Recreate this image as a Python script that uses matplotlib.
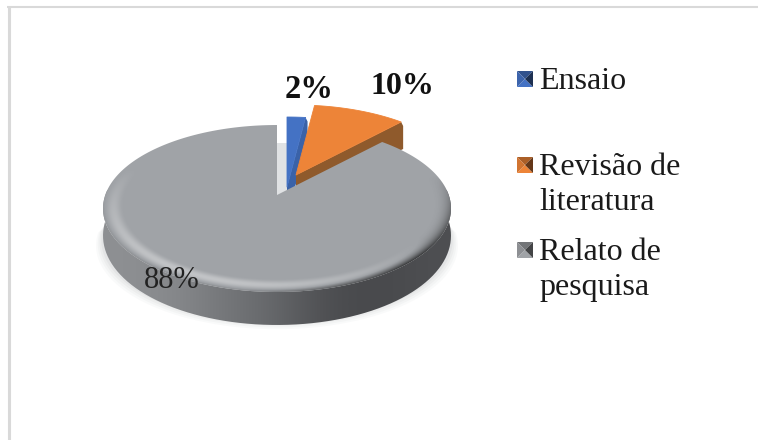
import numpy as np
import matplotlib
matplotlib.use("Agg")
import matplotlib.pyplot as plt
from matplotlib.patches import Polygon, PathPatch
from matplotlib.path import Path

# data
categories = ["Ensaio", "Revisão de\nliteratura", "Relato de\npesquisa"]
values = [2, 10, 88]
labels = ["2%", "10%", "88%"]
colors = ["#4472c4", "#ed8438", "#a0a3a7"]
side_colors = ["#3a62a8", "#8f5a2c", "#6a6c70"]

# pie geometry, in pixels
W, H = 758, 440
cx, cy = 277, 195
a, b, k = 81.3, 171.7, 0.1617


def project(theta, r=1.0):
    # theta clockwise from the top, degrees
    t = np.radians(theta)
    u = r * np.sin(t)
    v = r * np.cos(t)
    w = 1 + k * v
    return cx + b * u / w, cy - a * v / w


def rim(t0, t1, n=120):
    x, y = project(np.linspace(t0, t1, n))
    return np.column_stack([x, y])


def gradient(ax, path, stops, extent, zorder):
    img = np.array([matplotlib.colors.to_rgb(c) for c in stops])[None, :, :]
    im = ax.imshow(img, extent=extent, aspect="auto", interpolation="bicubic", zorder=zorder)
    im.set_clip_path(PathPatch(path, transform=ax.transData))


def tone(col, f):
    return tuple(np.array(matplotlib.colors.to_rgb(col)) * f)


fig = plt.figure(figsize=(W / 100, H / 100), dpi=100)
ax = fig.add_axes([0, 0, 1, 1])
ax.set_xlim(0, W)
ax.set_ylim(H, 0)
ax.axis("off")

# frame of the chart area
ax.plot([8.5, 8.5], [H, 7], color="#d9d9d9", lw=2.2, solid_capstyle="butt", zorder=1)
ax.plot([7, W], [7, 7], color="#d9d9d9", lw=1.5, solid_capstyle="butt", zorder=1)

total = sum(values)
angles = np.cumsum([0] + values) / total * 360

# soft shadow under the pie
for grow, alpha in zip([12, 9, 6, 3], [0.05, 0.06, 0.08, 0.1]):
    pts = rim(90, 270)
    pts = np.column_stack([cx + (pts[:, 0] - cx) * (1 + grow / 300), pts[:, 1] + 30 + grow * 0.6])
    ax.add_patch(Polygon(np.vstack([pts, [[cx, 150]]]), fc="#9a9ea3", ec="none", alpha=alpha, zorder=2))

# shadow in the gap at the top
ax.add_patch(Polygon([[cx, 143], [288, 143], [288, 190], [cx, 195]], fc="#e0e2e4", ec="none", zorder=2))

# Relato de pesquisa: wall then top
t0, t1 = angles[2], angles[3]
front = rim(t0 + 30, 300, 200)
depth = 26 - 7 * np.cos(np.radians(np.linspace(t0 + 30, 300, 200)))
wall = np.vstack([front, (front + np.column_stack([np.zeros(200), depth]))[::-1]])
gradient(
    ax,
    Path(np.vstack([wall, wall[:1]])),
    ["#8e9093", "#87898c", "#747679", "#65676a", "#4d4e51", "#47484b", "#4e4f52"],
    (101, 451, 340, 190),
    3,
)

top = np.vstack([[[cx, cy]], rim(t0, t1, 300), [[cx, cy]]])
ax.add_patch(Polygon(top, fc=colors[2], ec="none", zorder=5))

# bevel around the edge of the top, soft, only on the front half
ys, xs = np.mgrid[0:H, 0:W]
X = xs + 0.5 - cx
Y = cy - (ys + 0.5)
v = Y / (a - k * Y)
u = X * (1 + k * v) / b
r = np.hypot(u, v)
s = np.clip((r - 0.88) / 0.12, 0, 1)
front_side = np.clip(-v + 0.25, 0, 1)
bright = 0.28 * np.sin(np.pi * s) ** 2 * np.clip(-v - 0.1 - 0.5 * u, 0, 1)
dark = 0.55 * s**3 * front_side * np.clip(0.3 + 0.9 * u, 0.15, 1)
shade = bright - dark
overlay = np.zeros((H, W, 4))
overlay[..., :3] = (shade > 0)[..., None] * 1.0
overlay[..., 3] = np.clip(np.abs(shade) * 1.4, 0, 1)
im = ax.imshow(overlay, extent=(0, W, H, 0), aspect="auto", interpolation="bilinear", zorder=6)
im.set_clip_path(PathPatch(Path(top), transform=ax.transData))
ax.set_xlim(0, W)
ax.set_ylim(H, 0)

# the two exploded slices
offsets = [(10, -8), (19, -20)]
for i in [0, 1]:
    dx, dy = offsets[i]
    pts = np.vstack([[[cx, cy]], rim(angles[i], angles[i + 1], 40)]) + [dx, dy]
    # cut face going down from the right edge of the slice
    tip = pts[-1]
    face = [pts[0], tip, tip + [2, 4], tip + [2, 27], pts[0] + [0, 27]]
    ax.add_patch(Polygon(face, fc=side_colors[i], ec="none", zorder=3.2 + i))
    ax.add_patch(Polygon(pts, fc=colors[i], ec=colors[i], lw=0.6, joinstyle="round", zorder=3.3 + i))

# data labels
ax.text(309, 89, labels[0], fontsize=23.5, fontweight="bold", family="Liberation Serif",
        ha="center", va="center", color="#111111", zorder=8)
ax.text(402, 86, labels[1], fontsize=23, fontweight="bold", family="Liberation Serif",
        ha="center", va="center", color="#111111", zorder=8)
ax.text(172, 281, labels[2], fontsize=22, family="Liberation Serif",
        ha="center", va="center", color="#222222", zorder=8)

# legend
legend_y = [79, 165, 250]
for name, col, y in zip(categories, colors, legend_y):
    x0, x1 = 517, 533
    y0, y1 = y - 8, y + 8
    xc, yc = (x0 + x1) / 2, y
    ax.add_patch(Polygon([[x0, y0], [x1, y0], [xc, yc]], fc=tone(col, 0.72), ec="none", zorder=8))
    ax.add_patch(Polygon([[x0, y1], [x1, y1], [xc, yc]], fc=tone(col, 1.0), ec="none", zorder=8))
    ax.add_patch(Polygon([[x0, y0], [x0, y1], [xc, yc]], fc=tone(col, 0.88), ec="none", zorder=8))
    ax.add_patch(Polygon([[x1, y0], [x1, y1], [xc, yc]], fc=tone(col, 0.42), ec="none", zorder=8))
    ax.text(539, y - 12, name, fontsize=23, family="Liberation Serif", ha="left", va="top",
            color="#1a1a1a", linespacing=1.29, zorder=8)

fig.savefig("out.png", dpi=100)
